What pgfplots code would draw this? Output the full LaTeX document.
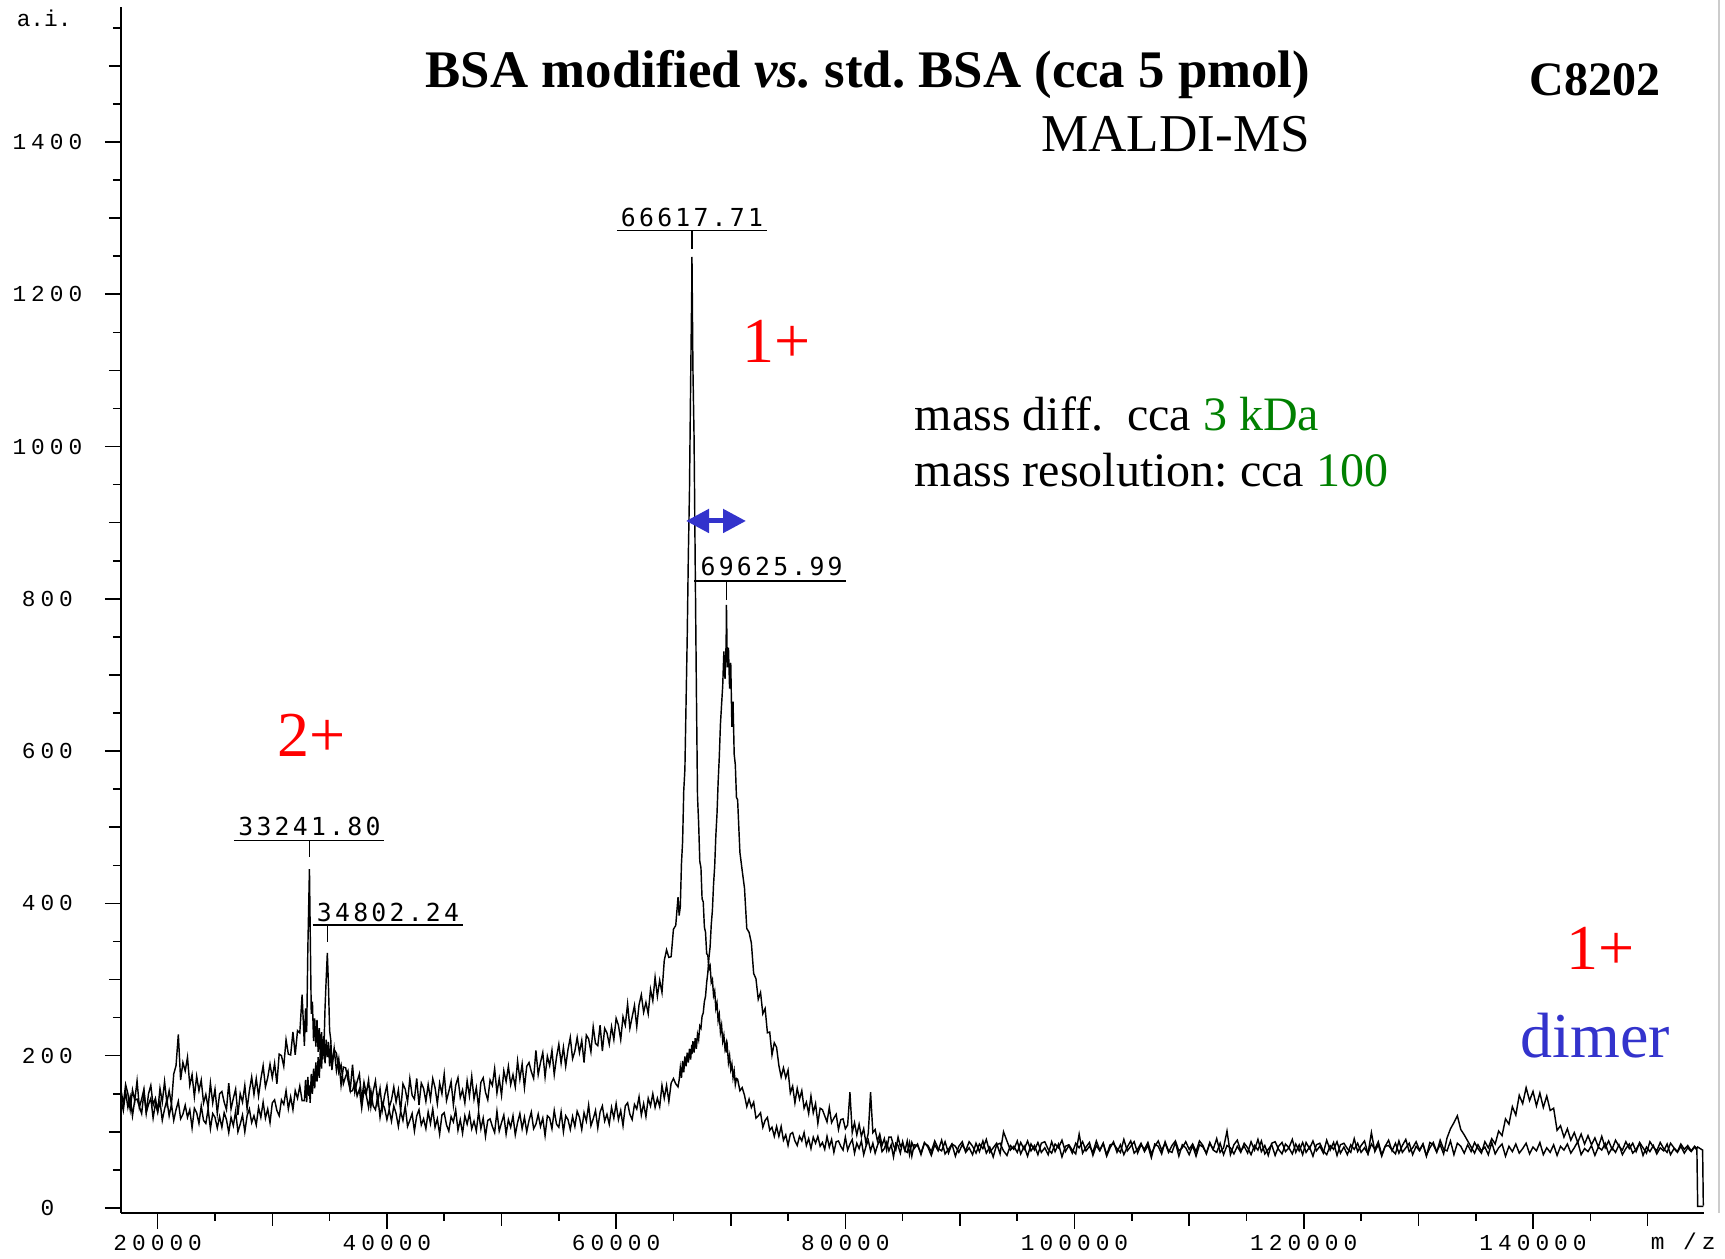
\documentclass[border=0pt]{standalone}
\usepackage{pgfplots}
\pgfplotsset{compat=1.18}
\usepackage{pgfplotstable}
\usetikzlibrary{arrows.meta}
\usepackage{fontspec}
\setmainfont{Liberation Serif}
\newfontfamily\tickfont[LetterSpace=22]{Liberation Mono}
\newfontfamily\monoplain{Liberation Mono}
\newfontfamily\peakfont[LetterSpace=13]{DejaVu Sans Mono}
\definecolor{tred}{RGB}{255,0,0}
\definecolor{tgreen}{RGB}{0,128,0}
\definecolor{tblue}{RGB}{51,51,204}
\frenchspacing

% m/z, std BSA (A), modified BSA (B)
\pgfplotstableread{
m A B
16800 155 142
17000 136 128
17200 162 153
17400 150 132
17600 129 146
17800 155 121
18000 141 142
18200 167 143
18400 132 133
18600 143 124
18800 156 152
19000 125 125
19200 150 136
19400 161 144
19600 135 118
19800 144 137
20000 127 126
20200 157 140
20400 139 115
20600 166 130
20800 138 142
21000 154 121
21200 136 136
21400 176 115
21600 187 129
21800 228 140
22000 168 117
22200 191 123
22400 180 135
22600 198 119
22800 161 129
23000 175 105
23200 146 131
23400 173 125
23600 154 111
23800 168 134
24000 138 115
24200 149 111
24400 132 130
24600 164 104
24800 138 124
25000 156 119
25200 124 105
25400 150 120
25600 153 106
25800 139 125
26000 129 116
26200 164 99
26400 130 119
26600 144 108
26800 156 127
27000 122 100
27200 150 110
27400 139 122
27600 161 100
27800 130 121
28000 154 130
28200 172 112
28400 149 121
28600 170 109
28800 147 132
29000 169 119
29200 187 139
29400 159 118
29600 171 130
29800 189 112
30000 171 138
30200 190 142
30400 163 128
30600 202 121
30800 200 142
31000 186 136
31200 221 154
31400 202 130
31600 201 146
31800 231 129
32000 201 154
32200 233 144
32400 230 160
32600 280 141
32800 213 141
32900 262 168
33000 231 139
33100 340 172
33200 415 147
33241 445 161
33300 372 138
33400 255 176
33500 271 150
33600 219 183
33700 249 157
33800 212 191
33900 247 166
34000 205 198
34100 236 171
34200 201 210
34300 231 183
34400 195 222
34500 226 206
34600 190 262
34700 221 300
34802 198 335
34900 218 292
35000 186 233
35100 214 221
35200 181 190
35400 209 208
35600 180 203
35800 196 178
36000 161 188
36200 185 163
36400 184 173
36600 168 180
36800 155 153
37000 188 154
37200 152 165
37400 166 147
37600 176 156
37800 142 131
38000 165 155
38200 150 148
38400 168 132
38600 133 154
38800 153 134
39000 167 129
39200 139 147
39400 157 119
39600 129 138
39800 148 131
40000 161 116
40200 132 129
40400 142 114
40600 159 134
40800 139 124
41000 155 107
41200 127 127
41400 163 115
41600 156 134
41800 139 107
42000 170 115
42200 148 124
42400 143 101
42600 170 121
42800 135 129
43000 164 109
43200 157 117
43400 140 104
43600 162 126
43800 143 111
44000 170 130
44200 158 106
44400 137 117
44600 164 97
44800 150 122
45000 176 125
45200 141 109
45400 153 101
45600 166 120
45800 135 113
46000 161 129
46200 171 102
46400 145 116
46600 155 98
46800 138 121
47000 167 110
47200 147 124
47400 173 104
47600 143 114
47800 158 101
48000 132 126
48200 165 104
48400 171 118
48600 152 94
48800 142 115
49000 168 117
49200 161 107
49400 183 99
49600 151 127
49800 170 101
50000 148 112
50200 180 122
50400 166 97
50600 186 116
50800 162 106
51000 175 121
51200 159 96
51400 193 112
51600 169 124
51800 189 104
52000 158 119
52200 186 100
52400 191 115
52600 179 126
52800 170 104
53000 207 110
53200 175 123
53400 191 107
53600 204 118
53800 172 95
54000 199 121
54200 187 118
54400 207 104
54600 175 128
54800 198 110
55000 215 106
55200 190 126
55400 211 100
55600 186 121
55800 208 116
56000 224 103
56200 196 120
56400 206 107
56600 224 127
56800 204 119
57000 220 103
57200 191 125
57400 227 114
57600 222 135
57800 205 108
58000 238 117
58200 216 128
58400 213 105
58600 240 126
58800 206 134
59000 236 114
59200 230 123
59400 215 110
59600 238 132
59800 221 118
60000 249 137
60200 240 116
60400 221 128
60600 251 108
60800 240 134
61000 268 138
61200 236 123
61400 251 116
61600 266 136
61800 238 130
62000 267 146
62200 280 122
62400 257 137
62600 270 120
62800 255 144
63000 287 134
63200 272 150
63400 303 132
63600 278 144
63800 299 133
64000 283 161
64200 325 144
64400 339 161
64600 329 140
64800 330 164
65000 366 170
65200 371 163
65400 408 159
65500 384 168
65600 396 184
65700 452 171
65800 481 193
65900 548 178
66000 576 199
66100 662 186
66200 747 204
66300 857 191
66400 942 209
66500 1083 195
66600 1209 214
66617 1249 202
66700 1103 219
66800 1012 204
66900 845 223
67000 684 209
67100 541 228
67200 505 221
67300 455 239
67400 447 236
67500 406 252
67600 402 256
67700 369 271
67800 362 278
67900 334 296
68000 332 309
68100 314 329
68200 318 343
68300 296 372
68400 300 391
68500 279 425
68600 285 449
68700 262 489
68800 269 517
68900 246 559
69000 254 592
69100 231 635
69200 240 661
69300 219 686
69400 227 731
69500 209 695
69600 216 743
69626 204 792
69700 212 710
69800 191 736
69900 200 682
70000 182 716
70100 189 632
70200 171 665
70300 180 596
70400 162 582
70500 170 539
70600 169 536
70800 154 467
71000 158 443
71200 148 420
71400 133 367
71600 143 362
71800 132 348
72000 139 308
72200 118 301
72400 121 274
72600 125 283
72800 106 255
73000 115 262
73200 119 230
73400 102 231
73600 106 201
73800 94 217
74000 107 211
74200 94 187
74400 107 172
74600 89 184
74800 96 171
75000 82 181
75200 97 151
75400 99 160
75600 88 138
75800 82 157
76000 94 143
76200 88 154
76400 99 131
76600 82 139
76800 91 124
77000 78 147
77200 93 125
77400 85 137
77600 94 111
77800 81 131
78000 86 129
78200 77 121
78400 94 113
78600 80 132
78800 90 112
79000 73 118
79200 87 123
79400 88 103
79600 81 116
79800 76 117
80000 93 104
80200 76 109
80400 84 152
80600 90 99
80800 72 112
81000 85 96
81200 78 110
81400 88 94
81600 70 104
81800 81 85
82000 89 98
82200 75 152
82400 85 99
82600 72 103
82800 82 88
83000 90 97
83200 74 82
83400 78 91
83600 86 76
83800 75 93
84000 83 93
84200 67 82
84400 85 76
84600 82 93
84800 72 81
85000 87 85
85200 75 75
85400 73 88
85600 86 70
85800 68 86
86000 83 78
86300 82 84
86600 72 70
86900 86 85
87200 80 82
87500 69 74
87800 83 88
88100 75 78
88400 89 75
88700 71 87
89000 77 72
89300 84 84
89600 68 81
89900 81 73
90200 87 83
90500 73 75
90800 79 87
91100 70 81
91400 85 72
91700 74 84
92000 88 78
92300 72 90
92600 80 73
92900 67 79
93200 83 85
93500 85 71
93800 75 100
94100 69 88
94400 82 76
94700 77 81
95000 88 73
95300 71 86
95600 81 77
95900 68 88
96200 84 75
96500 76 82
96800 86 70
97100 73 85
97400 79 87
97700 70 77
98000 87 72
98300 74 84
98600 84 79
98900 67 89
99200 81 74
99500 83 82
99800 76 72
100100 71 85
100400 97 79
100700 72 87
101000 80 75
101300 86 81
101600 69 73
101900 82 88
102200 75 76
102500 85 85
102800 68 70
103100 79 83
103400 87 84
103700 73 78
104000 83 73
104300 70 90
104600 80 75
104900 88 81
105200 72 87
105500 77 72
105800 85 83
106100 74 77
106400 82 86
106700 66 71
107000 84 81
107300 81 88
107600 71 76
107900 87 85
108200 75 73
108500 73 82
108800 86 88
109100 68 75
109400 83 79
109700 79 87
110000 70 77
110300 82 84
110600 68 74
110900 83 88
111200 80 82
111500 72 71
111800 86 85
112100 76 77
112400 73 91
112700 85 73
113000 70 79
113300 82 101
113600 79 70
113900 71 83
114200 81 89
114500 73 75
114800 85 81
115100 79 72
115400 70 87
115700 82 76
116000 76 90
116300 88 74
116600 71 82
116900 77 69
117200 83 85
117500 69 87
117800 81 77
118100 86 71
118400 74 84
118700 79 79
119000 71 90
119300 84 73
119600 75 83
119900 86 70
120200 73 86
120500 80 78
120800 68 88
121100 83 75
121400 85 81
121700 75 72
122000 70 89
122300 82 76
122600 77 86
122900 87 69
123200 72 83
123500 80 85
123800 70 78
124100 83 73
124400 77 91
124700 85 74
125000 73 82
125300 79 88
125600 71 71
125900 99 84
126200 74 77
126500 83 87
126800 68 70
127100 81 81
127400 82 89
127700 76 75
128000 71 85
128300 88 72
128600 73 82
128900 79 90
129200 85 74
129500 70 79
129800 81 87
130100 75 76
130400 84 84
130700 69 68
131000 79 86
131300 86 83
131600 74 73
131900 83 89
132200 71 77
132500 92 75
132800 104 88
133100 112 70
133400 121 85
133700 103 81
134000 96 72
134300 88 83
134600 80 74
134900 72 86
135200 83 78
135500 75 72
135800 80 87
136100 70 79
136400 86 91
136700 71 84
137000 79 101
137300 84 95
137600 68 117
137900 81 110
138200 74 133
138500 84 122
138800 72 148
139100 78 137
139400 85 158
139700 71 141
140000 80 153
140300 75 134
140600 86 151
140900 70 132
141200 79 147
141500 73 128
141800 83 131
142100 69 102
142400 81 108
142700 76 93
143000 84 104
143300 72 89
143600 79 99
143900 87 86
144200 70 97
144500 78 84
144800 74 95
145100 82 83
145400 69 92
145700 80 80
146000 76 94
146300 85 79
146600 71 88
146900 79 77
147200 73 89
147500 83 81
147800 70 76
148100 78 87
148400 84 78
148700 72 85
149000 77 74
149300 85 86
149600 69 79
149900 80 72
150200 74 87
150500 82 80
150800 71 75
151100 79 86
151400 75 78
151700 84 73
152000 70 85
152300 78 79
152600 73 74
152900 81 84
153200 72 77
153500 79 82
153800 74 75
154100 80 81
154300 76 78
154370 2 80
154800 2 76
154860 2 3
}\spec

\begin{document}
\begin{tikzpicture}
\path[use as bounding box] (0,0) rectangle (431.25pt,314.75pt);
\begin{axis}[
  at={(30.25pt,11.5pt)}, anchor=south west,
  scale only axis, width=395.75pt, height=301.5pt,
  xmin=16798, xmax=154920, ymin=-6.6, ymax=1577.3,
  axis x line*=bottom, axis y line*=left,
  axis line style={-, line width=0.45pt},
  tick align=outside,
  tick style={black, line width=0.4pt},
  major tick length=4pt, minor tick length=2pt,
  xtick={20000,40000,...,140000},
  xticklabels={20000,40000,60000,80000,100000,120000,140000},
  minor xtick={20000,25000,...,150000},
  extra x ticks={30000,50000,...,150000},
  extra x tick labels={},
  extra x tick style={major tick length=3.25pt},
  ytick={0,200,...,1400},
  yticklabels={0,200,400,600,800,1000,1200,1400},
  minor ytick={0,50,...,1550},
  extra y ticks={100,300,...,1500},
  extra y tick labels={},
  extra y tick style={major tick length=3pt},
  ticklabel style={font={\tickfont\fontsize{5.7}{6}\selectfont}, inner sep=0pt},
  yticklabel style={anchor=center, xshift=-14.4pt},
  xticklabel style={anchor=base, yshift=-5.3pt},
]
\addplot[black, line width=0.36pt, mark=none] table[x=m, y=B] {\spec};
\addplot[black, line width=0.36pt, mark=none] table[x=m, y=A] {\spec};

\draw[line width=0.3pt] (axis cs:60073,1283.2) -- (axis cs:73161,1283.2);
\draw[line width=0.3pt] (axis cs:66617,1283.2) -- (axis cs:66617,1259.5);
\node[anchor=base, inner sep=0pt, font={\peakfont\fontsize{6.2}{7}\selectfont}] at (axis cs:66617,1288.5) {66617.71};

\draw[line width=0.3pt] (axis cs:66834,823.5) -- (axis cs:80096,823.5);
\draw[line width=0.3pt] (axis cs:69626,823.5) -- (axis cs:69626,798.5);
\node[anchor=base, inner sep=0pt, font={\peakfont\fontsize{6.2}{7}\selectfont}] at (axis cs:73572,830) {69625.99};

\draw[line width=0.3pt] (axis cs:26655,482.4) -- (axis cs:39744,482.4);
\draw[line width=0.3pt] (axis cs:33241,482.4) -- (axis cs:33241,461.4);
\node[anchor=base, inner sep=0pt, font={\peakfont\fontsize{6.2}{7}\selectfont}] at (axis cs:33241,488.6) {33241.80};

\draw[line width=0.3pt] (axis cs:33524,371.7) -- (axis cs:46612,371.7);
\draw[line width=0.3pt] (axis cs:34802,371.7) -- (axis cs:34802,349.7);
\node[anchor=base, inner sep=0pt, font={\peakfont\fontsize{6.2}{7}\selectfont}] at (axis cs:40094,376) {34802.24};
\end{axis}

\begin{scope}[shift={(0pt,314.75pt)}, x=0.25pt, y=-0.25pt]
\draw[gray!40, line width=0.4pt] (1719,0) -- (1719,1213);
\node[anchor=base west, inner sep=0pt, font={\monoplain\fontsize{5.7}{6}\selectfont}] at (16,27) {a.i.};
\node[anchor=base west, inner sep=0pt, font={\tickfont\fontsize{5.7}{6}\selectfont}] at (1650,1250) {m /z};
\node[anchor=base east, inner sep=0pt, font={\fontsize{13.2}{15}\selectfont\bfseries}] at (1311,88) {BSA modified \textit{vs.} std. BSA (cca 5 pmol)};
\node[anchor=base east, inner sep=0pt, font={\fontsize{13.3}{15}\selectfont}] at (1311,152) {MALDI-MS};
\node[anchor=base east, inner sep=0pt, font={\fontsize{12}{14}\selectfont\bfseries}] at (1661,96) {C8202};
\node[anchor=base west, inner sep=0pt, font={\fontsize{12}{14}\selectfont}] at (914,431) {mass diff.\ \ cca \textcolor{tgreen}{3 kDa}};
\node[anchor=base west, inner sep=0pt, font={\fontsize{12}{14}\selectfont}] at (914,487) {mass resolution: cca \textcolor{tgreen}{100}};
\node[anchor=base west, inner sep=0pt, text=tred, font={\fontsize{16}{18}\selectfont}] at (742,363) {1+};
\node[anchor=base west, inner sep=0pt, text=tred, font={\fontsize{16}{18}\selectfont}] at (277,757) {2+};
\node[anchor=base west, inner sep=0pt, text=tred, font={\fontsize{16}{18}\selectfont}] at (1566,970) {1+};
\node[anchor=base west, inner sep=0pt, text=tblue, font={\fontsize{16}{18}\selectfont}] at (1520,1058) {dimer};
\draw[tblue, line width=1.25pt, {Triangle[length=5.75pt,width=5.75pt]}-{Triangle[length=5.75pt,width=5.75pt]}] (686,521) -- (746,521);
\end{scope}
\end{tikzpicture}
\end{document}
